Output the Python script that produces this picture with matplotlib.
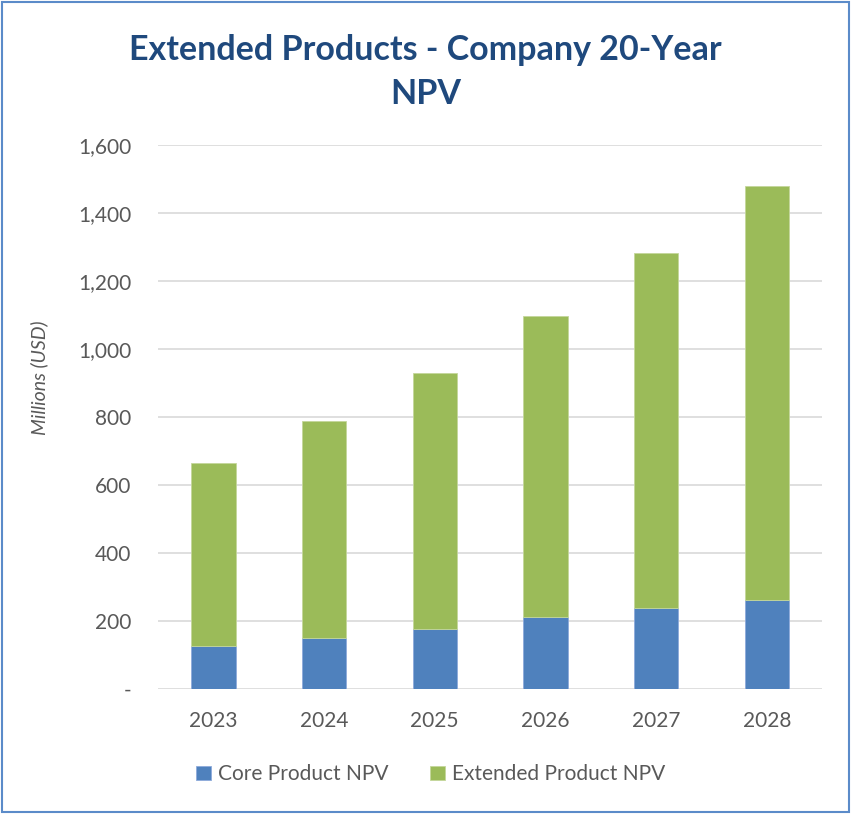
import matplotlib.pyplot as plt
from matplotlib.patches import Rectangle
from matplotlib.ticker import FuncFormatter

years = ["2023", "2024", "2025", "2026", "2027", "2028"]
core_npv = [126, 149, 176, 211, 238, 261]
extended_npv = [539, 638, 752, 885, 1043, 1218]
y_ticks = [0, 200, 400, 600, 800, 1000, 1200, 1400, 1600]

blue = "#4F81BD"
green = "#9BBB59"
text_grey = "#595959"

plt.rcParams['font.family'] = ['Lato', 'DejaVu Sans']

fig = plt.figure(figsize=(8.51, 8.14), dpi=100)
ax = fig.add_axes([0.1857, 0.1536, 0.7803, 0.6683])

x = range(len(years))
ax.bar(x, core_npv, width=0.4, color=blue, edgecolor="#8EAADB", linewidth=0.6,
       label="Core Product NPV", zorder=3)
ax.bar(x, extended_npv, width=0.4, bottom=core_npv, color=green, edgecolor="#C4D79B",
       linewidth=0.6, label="Extended Product NPV", zorder=3)

ax.set_xlim(-0.5, len(years) - 0.5)
ax.set_ylim(0, 1600)
ax.set_yticks(y_ticks)
ax.yaxis.set_major_formatter(FuncFormatter(lambda v, p: "-" if v == 0 else f"{int(v):,}"))
ax.set_xticks(list(x))
ax.set_xticklabels(years)
ax.tick_params(length=0, colors=text_grey, labelsize=15)
ax.tick_params(axis="y", pad=19)
ax.tick_params(axis="x", pad=16)
ax.grid(axis="y", color="#D9D9D9", linewidth=1.2, zorder=0)
for s in ax.spines.values():
    s.set_visible(False)

ax.set_ylabel("Millions (USD)", style="italic", color=text_grey, fontsize=14)
ax.yaxis.set_label_coords(-0.166, 0.572)

fig.text(0.5, 0.939, "Extended Products - Company 20-Year", ha="center", va="center",
         fontsize=24.5, fontweight="bold", color="#1F497D")
fig.text(0.5, 0.884, "NPV", ha="center", va="center",
         fontsize=24.5, fontweight="bold", color="#1F497D")

ax.legend(loc="center", bbox_to_anchor=(0.506, 0.049), bbox_transform=fig.transFigure,
          ncol=2, frameon=False, fontsize=15, handlelength=0.7, handleheight=0.7,
          columnspacing=2.0, handletextpad=0.35, labelcolor=text_grey)

fig.patches.append(Rectangle((0.002, 0.002), 0.996, 0.996, transform=fig.transFigure,
                             fill=False, edgecolor="#5B8BC9", linewidth=1.5))

fig.savefig("out.png", dpi=100)
